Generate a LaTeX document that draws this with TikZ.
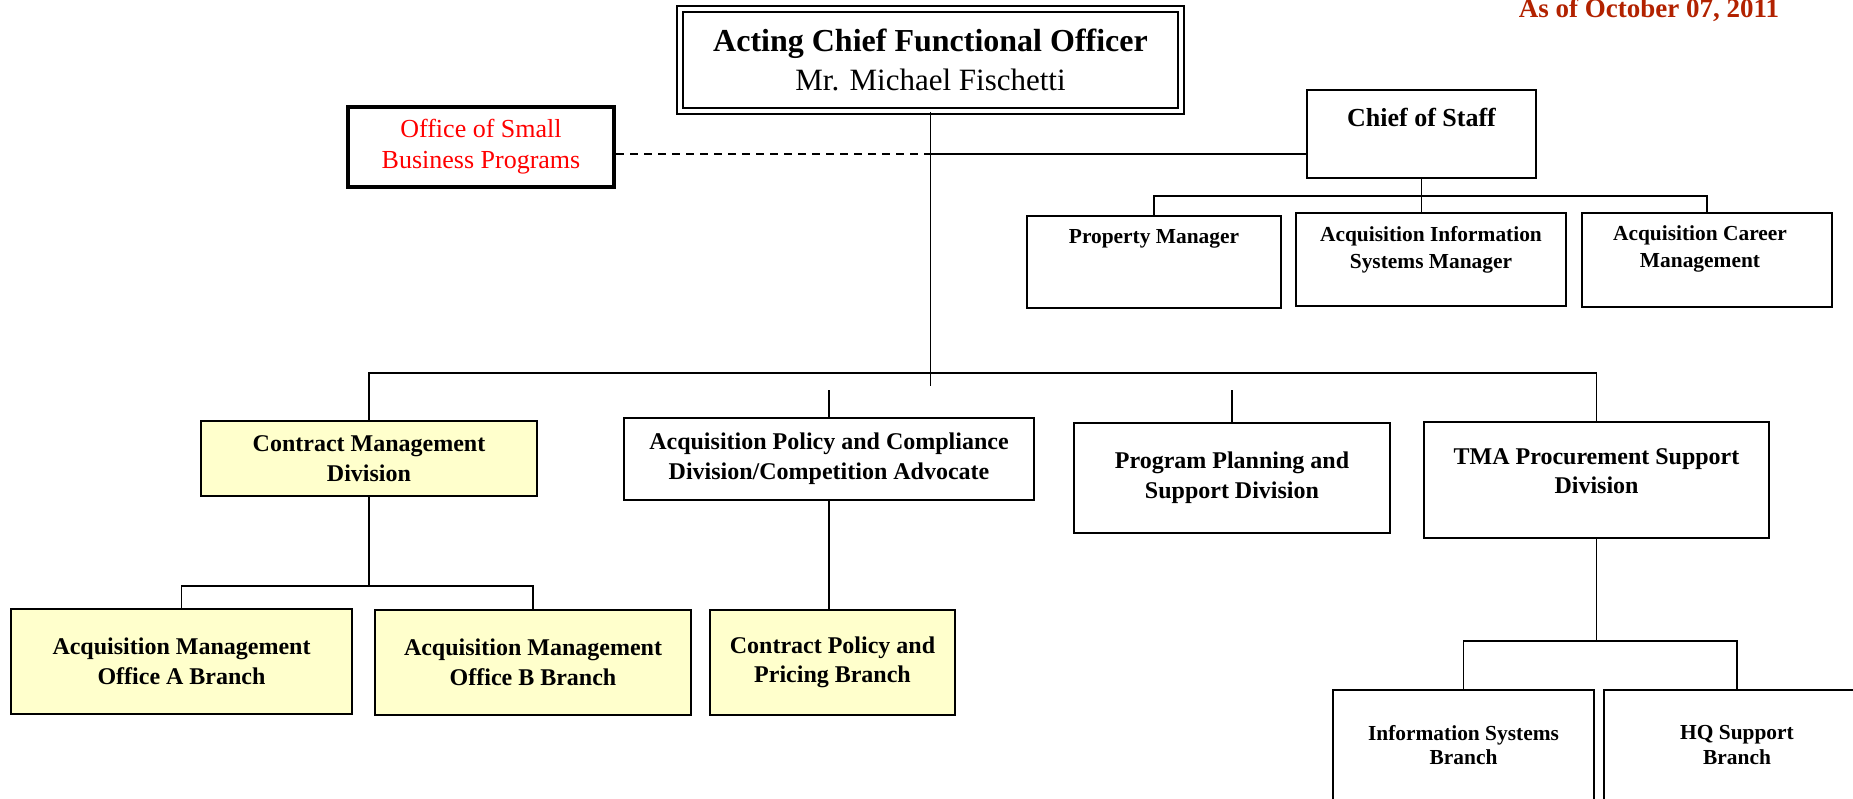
\documentclass[tikz,border=0pt]{standalone}
\usepackage{fontspec}
\setmainfont{Liberation Serif}
\definecolor{cmdyellow}{RGB}{255,255,204}
\definecolor{datered}{RGB}{178,34,0}
\tikzset{
  box/.style={draw, line width=1pt, inner sep=0pt, fill=white, align=center,
    font=\bfseries\fontsize{12}{14.8}\selectfont},
  ybox/.style={box, fill=cmdyellow},
  lbl/.style={align=center, inner sep=0pt},
  small/.style={font=\bfseries\fontsize{10.7}{13.5}\selectfont},
  conn/.style={line width=0.9pt},
}
\begin{document}
\begin{tikzpicture}[x=0.5pt, y=-0.5pt]
\useasboundingbox (0,0) rectangle (1853,798);

% date
\node[lbl, anchor=base, text=datered, font=\bfseries\fontsize{13.5}{16}\selectfont] (date) at (1649,17) {As of October 07, 2011};

% top
\node[draw, double, double distance=1.8pt, line width=1.1pt, inner sep=0pt, align=center,
  minimum width=250.5pt, minimum height=51pt, font=\fontsize{15.5}{19.5}\selectfont] (cfo) at (930.5,60)
  {{\bfseries\fontsize{16}{19.5}\selectfont Acting Chief Functional Officer}\\Mr. Michael Fischetti};

\node[box, line width=2pt, minimum width=133pt, minimum height=40pt, text=red,
  font=\fontsize{13}{15.5}\selectfont] (osbp) at (481,147) {Office of Small\\Business Programs};

\node[box, minimum width=114.5pt, minimum height=44pt] (cos) at (1421.5,134) {};
\node[lbl, font=\bfseries\fontsize{13}{15}\selectfont] (cost) at (1421.5,117) {Chief of Staff};

\node[box, minimum width=127pt, minimum height=46pt] (pm) at (1154,262) {};
\node[lbl, small] (pmt) at (1154,239) {Property Manager};
\node[box, minimum width=135pt, minimum height=46.5pt] (aism) at (1431,259.5) {};
\node[lbl, small] (aismt) at (1431,250) {Acquisition Information\\Systems Manager};
\node[box, minimum width=125pt, minimum height=47pt] (acm) at (1707,260) {};
\node[lbl, small] (acmt) at (1700,248.5) {Acquisition Career\\Management};

% divisions
\node[ybox, minimum width=168pt, minimum height=37.5pt] (cmd) at (369,458.5) {Contract Management\\Division};
\node[box, minimum width=205pt, minimum height=41pt] (apc) at (829,459) {Acquisition Policy and Compliance\\Division/Competition Advocate};
\node[box, minimum width=158pt, minimum height=55pt] (pps) at (1232,478) {Program Planning and\\Support Division};
\node[box, minimum width=172.5pt, minimum height=58pt] (tma) at (1596.5,480) {};
\node[lbl, font=\bfseries\fontsize{12}{14.8}\selectfont] (tmat) at (1596.5,471) {TMA Procurement Support\\Division};

% branches
\node[ybox, minimum width=170.5pt, minimum height=52.5pt] (amoa) at (181.5,661.5) {Acquisition Management\\Office A Branch};
\node[ybox, minimum width=158pt, minimum height=52.5pt] (amob) at (533,662.5) {Acquisition Management\\Office B Branch};
\node[ybox, minimum width=122.5pt, minimum height=52.5pt] (cpp) at (832.5,662.5) {Contract Policy and\\Pricing Branch};
\node[box, minimum width=130.5pt, minimum height=65pt] (isb) at (1463.5,755) {};
\node[lbl, small, font=\bfseries\fontsize{10.7}{12.3}\selectfont] (isbt) at (1463.5,745) {Information Systems\\Branch};
\node[box, minimum width=133pt, minimum height=65pt] (hq) at (1737,755) {};
\node[lbl, small, font=\bfseries\fontsize{10.7}{12.3}\selectfont] (hqt) at (1737,745) {HQ Support\\Branch};

% connectors
\coordinate (jn) at (930.5,154);
\coordinate (cfoend) at (930.5,386);
\coordinate (mbus) at (930.5,373);
\coordinate (gap) at (930.5,390);
\coordinate (cosbus) at (1421.5,196);
\coordinate (cmdbus) at (369,586);
\coordinate (tmabus) at (1596.5,641);

\draw[conn] (cfo.south) -- (cfoend);
\draw[conn, dash pattern=on 4pt off 3pt] (osbp.east |- jn) -- (jn);
\draw[conn] (jn) -- (cos.west |- jn);

\draw[conn] (cos.south) -- (cosbus);
\draw[conn] (pm.north) -- (pm.north |- cosbus) -- (acm.north |- cosbus) -- (acm.north);
\draw[conn] (cosbus) -- (cosbus |- aism.north);

\draw[conn] (cmd.north) -- (cmd.north |- mbus) -- (tma.north |- mbus) -- (tma.north);
\draw[conn] (apc.north |- gap) -- (apc.north);
\draw[conn] (pps.north |- gap) -- (pps.north);

\draw[conn] (cmd.south) -- (cmdbus);
\draw[conn] (amoa.north) -- (amoa.north |- cmdbus) -- (amob.north |- cmdbus) -- (amob.north);
\draw[conn] (apc.south) -- (apc.south |- cpp.north);

\draw[conn] (tma.south) -- (tmabus);
\draw[conn] (isb.north) -- (isb.north |- tmabus) -- (hq.north |- tmabus) -- (hq.north);
\end{tikzpicture}
\end{document}
